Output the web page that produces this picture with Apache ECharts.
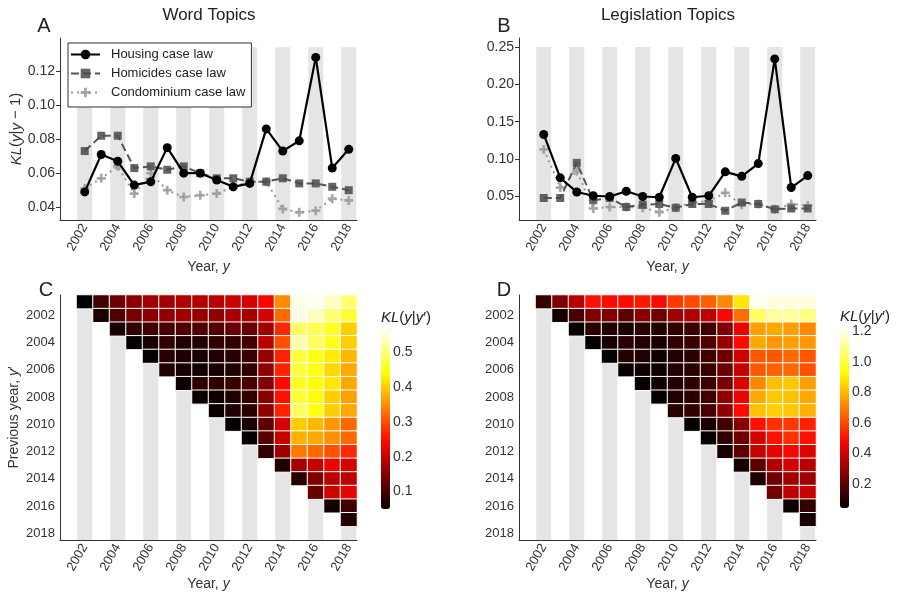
<!DOCTYPE html>
<html>
<head>
<meta charset="utf-8">
<script src="https://cdn.jsdelivr.net/npm/echarts@6/dist/echarts.min.js"></script>
<style>
  html, body { margin: 0; padding: 0; background: #ffffff; }
  #chart { width: 897px; height: 597px; }
</style>
</head>
<body>
<div id="chart"></div>
<script>
// ---- data ----------------------------------------------------------------
const yearCats = ['2001', '2002', '2003', '2004', '2005', '2006', '2007', '2008', '2009',
                  '2010', '2011', '2012', '2013', '2014', '2015', '2016', '2017', '2018'];
const lineYears = ['2002', '2003', '2004', '2005', '2006', '2007', '2008', '2009', '2010',
                   '2011', '2012', '2013', '2014', '2015', '2016', '2017', '2018'];
const bandYears = ['2002', '2004', '2006', '2008', '2010', '2012', '2014', '2016', '2018'];

// KL(y | y-1), word topics
const wordHousing    = [0.049, 0.071, 0.067, 0.053, 0.055, 0.075, 0.060, 0.060, 0.056, 0.052, 0.054, 0.086, 0.073, 0.079, 0.128, 0.063, 0.074];
const wordHomicides  = [0.073, 0.082, 0.082, 0.063, 0.064, 0.062, 0.064, 0.060, 0.057, 0.057, 0.055, 0.055, 0.057, 0.054, 0.054, 0.052, 0.050];
const wordCondo      = [0.051, 0.057, 0.064, 0.048, 0.060, 0.050, 0.046, 0.047, 0.048, 0.052, 0.055, 0.055, 0.039, 0.037, 0.038, 0.045, 0.044];

// KL(y | y-1), legislation topics
const legHousing     = [0.133, 0.075, 0.056, 0.051, 0.050, 0.057, 0.050, 0.049, 0.101, 0.049, 0.051, 0.083, 0.077, 0.094, 0.234, 0.062, 0.078];
const legHomicides   = [0.048, 0.048, 0.095, 0.045, 0.048, 0.036, 0.039, 0.040, 0.035, 0.040, 0.040, 0.031, 0.042, 0.040, 0.033, 0.034, 0.034];
const legCondo       = [0.113, 0.062, 0.084, 0.034, 0.036, 0.036, 0.035, 0.029, 0.035, 0.042, 0.044, 0.055, 0.039, 0.040, 0.033, 0.040, 0.038];

// KL(y | y') for housing case law; one list per year y, previous years y' = 2001 .. y-1
const wordKL = [
  [0.049],
  [0.098, 0.071],
  [0.133, 0.110, 0.067],
  [0.151, 0.139, 0.086, 0.053],
  [0.169, 0.151, 0.098, 0.068, 0.055],
  [0.169, 0.157, 0.104, 0.086, 0.080, 0.075],
  [0.181, 0.169, 0.110, 0.074, 0.074, 0.068, 0.060],
  [0.181, 0.163, 0.110, 0.074, 0.068, 0.062, 0.085, 0.060],
  [0.187, 0.157, 0.110, 0.086, 0.074, 0.068, 0.086, 0.062, 0.056],
  [0.202, 0.175, 0.127, 0.086, 0.080, 0.074, 0.092, 0.074, 0.074, 0.052],
  [0.211, 0.175, 0.127, 0.098, 0.092, 0.086, 0.104, 0.086, 0.080, 0.068, 0.054],
  [0.240, 0.211, 0.169, 0.187, 0.163, 0.157, 0.145, 0.151, 0.157, 0.121, 0.115, 0.086],
  [0.348, 0.322, 0.271, 0.302, 0.265, 0.265, 0.246, 0.252, 0.265, 0.211, 0.199, 0.169, 0.073],
  [0.557, 0.558, 0.488, 0.529, 0.471, 0.471, 0.455, 0.463, 0.488, 0.401, 0.377, 0.333, 0.175, 0.079],
  [0.565, 0.537, 0.480, 0.488, 0.446, 0.446, 0.438, 0.438, 0.446, 0.383, 0.370, 0.320, 0.199, 0.145, 0.128],
  [0.537, 0.496, 0.455, 0.455, 0.426, 0.408, 0.420, 0.401, 0.401, 0.358, 0.352, 0.302, 0.228, 0.187, 0.205, 0.063],
  [0.496, 0.463, 0.401, 0.401, 0.383, 0.370, 0.370, 0.364, 0.370, 0.320, 0.320, 0.271, 0.211, 0.193, 0.223, 0.098, 0.074]
];

const legKL = [
  [0.133],
  [0.258, 0.075],
  [0.353, 0.163, 0.056],
  [0.503, 0.258, 0.108, 0.051],
  [0.489, 0.258, 0.095, 0.081, 0.050],
  [0.489, 0.203, 0.081, 0.108, 0.095, 0.057],
  [0.517, 0.272, 0.108, 0.095, 0.095, 0.067, 0.050],
  [0.489, 0.230, 0.095, 0.081, 0.067, 0.067, 0.067, 0.049],
  [0.574, 0.313, 0.122, 0.122, 0.095, 0.095, 0.095, 0.095, 0.101],
  [0.603, 0.340, 0.135, 0.135, 0.108, 0.108, 0.115, 0.115, 0.130, 0.049],
  [0.645, 0.367, 0.149, 0.177, 0.149, 0.135, 0.149, 0.149, 0.163, 0.081, 0.051],
  [0.716, 0.480, 0.258, 0.299, 0.230, 0.217, 0.245, 0.285, 0.285, 0.149, 0.122, 0.083],
  [0.890, 0.673, 0.445, 0.489, 0.395, 0.380, 0.422, 0.448, 0.489, 0.272, 0.230, 0.203, 0.077],
  [1.212, 1.042, 0.759, 0.773, 0.630, 0.630, 0.716, 0.773, 0.816, 0.503, 0.408, 0.380, 0.203, 0.094],
  [1.193, 1.117, 0.773, 0.744, 0.630, 0.645, 0.816, 0.830, 0.844, 0.560, 0.503, 0.435, 0.340, 0.230, 0.234],
  [1.193, 1.117, 0.759, 0.759, 0.659, 0.659, 0.830, 0.816, 0.830, 0.574, 0.560, 0.474, 0.408, 0.313, 0.367, 0.062],
  [1.193, 1.080, 0.716, 0.744, 0.630, 0.617, 0.759, 0.773, 0.787, 0.531, 0.503, 0.422, 0.353, 0.313, 0.380, 0.122, 0.078]
];

// tick labels
const wordTicks = [0.04, 0.06, 0.08, 0.10, 0.12];
const legTicks = [0.05, 0.10, 0.15, 0.20, 0.25];
const wordBarTicks = [0.1, 0.2, 0.3, 0.4, 0.5];
const legBarTicks = [0.2, 0.4, 0.6, 0.8, 1.0, 1.2];

const seriesNames = ['Housing case law', 'Homicides case law', 'Condominium case law'];

// ---- styling -------------------------------------------------------------
const FONT = '"Liberation Sans", Arial, Helvetica, sans-serif';
const INK = '#333333';
const BAND = '#e5e5e5';
const HOT = ['#000000', '#570000', '#af0000', '#ff0700', '#ff5a00', '#ffae00', '#ffff04', '#ffff82', '#ffffff'];
const PLUS = 'path://M3.5,0h3v3.5h3.5v3h-3.5v3.5h-3v-3.5h-3.5v-3h3.5z';
const italic = (size, color) => ({
  i: { fontStyle: 'italic', fontSize: size, fontFamily: FONT, color: color, fill: color }
});

const chart = echarts.init(document.getElementById('chart'), null, { renderer: 'canvas' });

const evenYear = (idx, val) => Number(val) % 2 === 0;

function yearAxis(gridIndex, nameGap) {
  return {
    type: 'category', gridIndex, data: yearCats, boundaryGap: true,
    name: 'Year, {i|y}', nameLocation: 'middle', nameGap,
    nameTextStyle: { fontSize: 14, color: INK, rich: italic(14, INK) },
    axisLine: { lineStyle: { color: INK, width: 1 } },
    axisTick: { interval: evenYear, alignWithLabel: true, length: 4, lineStyle: { color: INK } },
    axisLabel: { interval: evenYear, rotate: 60, color: INK, fontSize: 13, margin: 5 },
    splitLine: { show: false }
  };
}

function klAxis(gridIndex, min, max, ticks, name) {
  return {
    type: 'value', gridIndex, min, max,
    name: name || '', nameLocation: 'middle', nameGap: 33,
    nameTextStyle: { fontSize: 15, color: INK, rich: italic(15, INK) },
    axisLine: { show: true, lineStyle: { color: INK } },
    axisTick: { show: true, length: 4, customValues: ticks, lineStyle: { color: INK } },
    axisLabel: { customValues: ticks, color: INK, fontSize: 14, margin: 5, formatter: v => v.toFixed(2) },
    splitLine: { show: false }
  };
}

function prevYearAxis(gridIndex, name) {
  return {
    type: 'category', gridIndex, data: yearCats, inverse: true, boundaryGap: true,
    name: name || '', nameLocation: 'middle', nameGap: 39,
    nameTextStyle: { fontSize: 14, color: INK, rich: italic(14, INK) },
    axisLine: { lineStyle: { color: INK } },
    axisTick: { interval: evenYear, alignWithLabel: true, length: 4, lineStyle: { color: INK } },
    axisLabel: { interval: evenYear, color: INK, fontSize: 13, margin: 5 },
    splitLine: { show: false }
  };
}

function barAxis(gridIndex, min, max, ticks) {
  return {
    type: 'value', gridIndex, min, max, position: 'right',
    axisLine: { show: false },
    axisTick: { show: true, length: 3, customValues: ticks, lineStyle: { color: INK } },
    axisLabel: { customValues: ticks, color: INK, fontSize: 14, margin: 3, formatter: v => v.toFixed(1) },
    splitLine: { show: false }
  };
}

// shaded columns behind every other year
function bands(axisIndex, top) {
  return {
    type: 'custom', xAxisIndex: axisIndex, yAxisIndex: axisIndex, silent: true, z: 1,
    data: bandYears.map(y => [y, top]),
    renderItem: (params, api) => {
      const cs = params.coordSys;
      const pt = api.coord([api.value(0), api.value(1)]);
      const w = api.size([1, 0])[0] * 0.91;
      const y0 = top === null ? cs.y : pt[1];
      return {
        type: 'rect',
        shape: { x: pt[0] - w / 2, y: y0, width: w, height: cs.y + cs.height - y0 },
        style: { fill: BAND }
      };
    }
  };
}

function lines(axisIndex, housing, homicides, condo) {
  const pts = vals => lineYears.map((y, i) => [y, vals[i]]);
  return [
    {
      name: seriesNames[2], type: 'line', xAxisIndex: axisIndex, yAxisIndex: axisIndex, z: 3,
      data: pts(condo), symbol: PLUS, symbolSize: 9,
      lineStyle: { color: '#999999', width: 2, type: [2, 4] },
      itemStyle: { color: '#999999', opacity: 0.85 }
    },
    {
      name: seriesNames[1], type: 'line', xAxisIndex: axisIndex, yAxisIndex: axisIndex, z: 4,
      data: pts(homicides), symbol: 'rect', symbolSize: 8,
      lineStyle: { color: '#555555', width: 2, type: [8, 4] },
      itemStyle: { color: '#4a4a4a', opacity: 0.85 }
    },
    {
      name: seriesNames[0], type: 'line', xAxisIndex: axisIndex, yAxisIndex: axisIndex, z: 5,
      data: pts(housing), symbol: 'circle', symbolSize: 9,
      lineStyle: { color: '#000000', width: 2.2 },
      itemStyle: { color: '#000000' }
    }
  ];
}

function heat(axisIndex, cols) {
  const cells = [];
  cols.forEach((col, i) => col.forEach((v, j) => cells.push([lineYears[i], yearCats[j], v])));
  return {
    type: 'heatmap', xAxisIndex: axisIndex, yAxisIndex: axisIndex, z: 3,
    data: cells,
    itemStyle: { borderColor: '#ffffff', borderWidth: 1 },
    emphasis: { disabled: true }
  };
}

const series = [
  bands(0, 0.134), ...lines(0, wordHousing, wordHomicides, wordCondo),   // 0..3
  bands(1, 0.25), ...lines(1, legHousing, legHomicides, legCondo),       // 4..7
  bands(2, null), heat(2, wordKL),                                       // 8, 9
  bands(3, null), heat(3, legKL)                                         // 10, 11
];

const label = (x, y, text, size, extra) => ({
  type: 'text', x, y, silent: true,
  style: Object.assign({ text, fontSize: size, fontFamily: FONT, fill: '#222222',
                         align: 'center', verticalAlign: 'middle', rich: italic(size, '#222222') }, extra || {})
});

const option = {
  animation: false,
  backgroundColor: '#ffffff',
  textStyle: { fontFamily: FONT },
  grid: [
    { left: 60, top: 38, width: 297, height: 182 },
    { left: 519, top: 38, width: 297, height: 182 },
    { left: 60, top: 295, width: 297, height: 245 },
    { left: 519, top: 295, width: 297, height: 245 },
    { left: 381, top: 328, width: 9, height: 181 },
    { left: 840, top: 327, width: 9, height: 181 }
  ],
  xAxis: [
    yearAxis(0, 40), yearAxis(1, 40), yearAxis(2, 36), yearAxis(3, 36),
    { type: 'value', gridIndex: 4, show: false },
    { type: 'value', gridIndex: 5, show: false }
  ],
  yAxis: [
    klAxis(0, 0.0325, 0.1394, wordTicks, '{i|KL}({i|y}|{i|y} − 1)'),
    klAxis(1, 0.0186, 0.262, legTicks),
    prevYearAxis(2, 'Previous year, {i|y}′'),
    prevYearAxis(3),
    barAxis(4, 0.05, 0.57, wordBarTicks),
    barAxis(5, 0.04, 1.23, legBarTicks)
  ],
  visualMap: [
    { type: 'continuous', seriesIndex: 9, min: 0.05, max: 0.57, inRange: { color: HOT },
      orient: 'vertical', left: 381, top: 328, itemWidth: 9, itemHeight: 181,
      calculable: false, padding: 0, hoverLink: false },
    { type: 'continuous', seriesIndex: 11, min: 0.04, max: 1.23, inRange: { color: HOT },
      orient: 'vertical', left: 840, top: 327, itemWidth: 9, itemHeight: 181,
      calculable: false, padding: 0, hoverLink: false }
  ],
  legend: {
    data: seriesNames, orient: 'vertical', left: 68, top: 43,
    itemWidth: 29, itemHeight: 12, itemGap: 6,
    padding: [5, 6, 8, 2], borderColor: INK, borderWidth: 1, backgroundColor: '#ffffff',
    textStyle: { fontSize: 13, color: '#222222', padding: [0, 0, 0, 6] },
    selectedMode: false, z: 10
  },
  graphic: [
    label(209, 15, 'Word Topics', 17),
    label(668, 15, 'Legislation Topics', 17),
    label(44, 26, 'A', 20),
    label(504, 26, 'B', 20),
    label(46, 290, 'C', 20),
    label(504, 290, 'D', 20),
    label(381, 318, '{i|KL}({i|y}|{i|y}′)', 15, { align: 'left' }),
    label(840, 317, '{i|KL}({i|y}|{i|y}′)', 15, { align: 'left' })
  ],
  series
};

chart.setOption(option);
</script>
</body>
</html>
